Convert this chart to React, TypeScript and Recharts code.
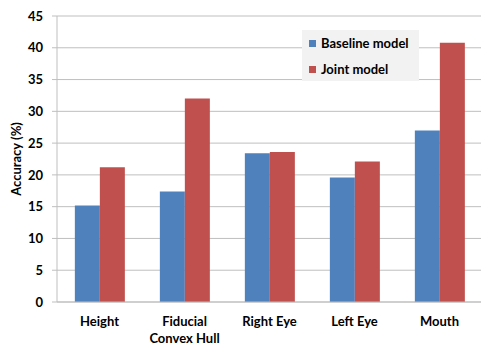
import React from "react";
import { BarChart, Bar, XAxis, YAxis, CartesianGrid } from "recharts";

const categories = ["Height", "Fiducial\nConvex Hull", "Right Eye", "Left Eye", "Mouth"];
const baseline = [15.2, 17.4, 23.4, 19.6, 27.0];
const joint = [21.2, 32.0, 23.6, 22.1, 40.8];
const yTicks = [0, 5, 10, 15, 20, 25, 30, 35, 40, 45];
const boundaryTicks = [0, 1, 2, 3, 4, 5];
const seriesNames = ["Baseline model", "Joint model"];

const data = categories.map((name, i) => ({ name, baseline: baseline[i], joint: joint[i] }));

const FONT = "Lato, 'Open Sans', sans-serif";
const BLUE = "#4f81bd";
const RED = "#c0504d";
const GRID = "#bfbfbf";

const CategoryTick = (props: any) => {
  const { x, y, payload } = props;
  const lines = String(payload.value).split("\n");
  return (
    <g transform={`translate(${x},${y})`}>
      {lines.map((ln, i) => (
        <text
          key={i}
          x={0}
          y={0}
          dy={16 + i * 17}
          textAnchor="middle"
          fontFamily={FONT}
          fontWeight="bold"
          fontSize={13}
          fill="#000"
        >
          {ln}
        </text>
      ))}
    </g>
  );
};

const YLabel = () => (
  <text
    x={21}
    y={159}
    transform="rotate(-90, 21, 159)"
    textAnchor="middle"
    fontFamily={FONT}
    fontWeight="bold"
    fontSize={13}
    fill="#000"
  >
    Accuracy (%)
  </text>
);

const LegendBox = () => (
  <div
    style={{
      position: "absolute",
      left: 302,
      top: 30,
      background: "#f2f2f2",
      width: 117,
      height: 51,
      boxSizing: "border-box",
      padding: "0 0 0 7px",
      fontFamily: FONT,
      fontWeight: "bold",
      fontSize: 13,
      color: "#000",
    }}
  >
    {seriesNames.map((label, i) => (
      <div key={label} style={{ display: "flex", alignItems: "center", height: 26 }}>
        <span style={{ display: "inline-block", width: 7, height: 7, background: i === 0 ? BLUE : RED, marginRight: 5 }} />
        <span>{label}</span>
      </div>
    ))}
  </div>
);

export default function App() {
  return (
    <div style={{ position: "absolute", left: 0, top: 0, width: 481, height: 345, overflow: "hidden", background: "#fff" }}>
      <BarChart
        width={482}
        height={345}
        data={data}
        margin={{ top: 16, right: 0, bottom: 0, left: 0 }}
        barCategoryGap="21%"
        barGap={0}
      >
        <CartesianGrid vertical={false} stroke={GRID} strokeWidth={1} />
        <XAxis
          dataKey="name"
          height={43}
          tickLine={false}
          axisLine={{ stroke: GRID }}
          tick={<CategoryTick />}
          interval={0}
        />
        <XAxis
          xAxisId="bounds"
          type="number"
          domain={[0, 5]}
          ticks={boundaryTicks}
          height={0}
          axisLine={false}
          tick={false}
          tickLine={{ stroke: GRID }}
          tickSize={5}
          orientation="bottom"
        />
        <YAxis
          width={57}
          domain={[0, 45]}
          ticks={yTicks}
          interval={0}
          axisLine={{ stroke: GRID }}
          tickLine={{ stroke: GRID }}
          tickSize={5}
          tickMargin={9}
          tick={{ fontFamily: FONT, fontWeight: "bold", fontSize: 13, fill: "#000" }}
          label={<YLabel />}
        />
        <Bar dataKey="baseline" name={seriesNames[0]} fill={BLUE} isAnimationActive={false} />
        <Bar dataKey="joint" name={seriesNames[1]} fill={RED} isAnimationActive={false} />
      </BarChart>
      <LegendBox />
    </div>
  );
}
